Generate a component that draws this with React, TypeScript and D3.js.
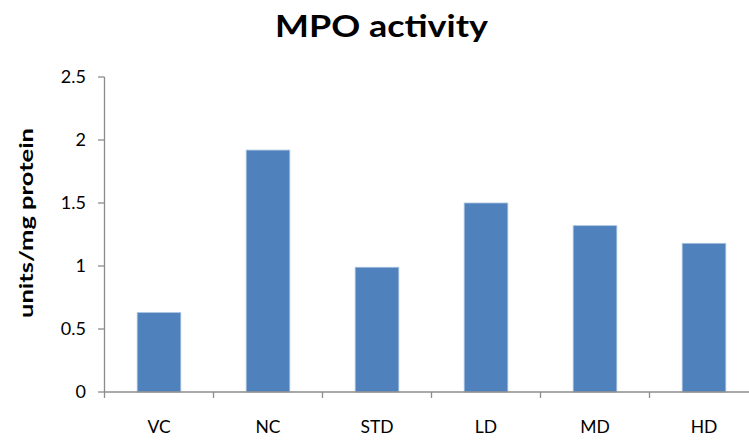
import React from "react";
import * as d3 from "d3";

const categories = ["VC", "NC", "STD", "LD", "MD", "HD"];
const values = [0.63, 1.92, 0.99, 1.5, 1.32, 1.18];
const yTicks = [0, 0.5, 1, 1.5, 2, 2.5];
const yTickLabels = ["0", "0.5", "1", "1.5", "2", "2.5"];
const title = "MPO activity";
const yLabel = "units/mg protein";

const W = 749;
const H = 441;
const FONT = "Lato, 'Open Sans', sans-serif";

export default function App() {
  const xb = d3.scaleBand<string>().domain(categories).range([104.5, 758.5]);
  const y = d3.scaleLinear().domain([0, 2.5]).range([392, 77]);
  const axisColor = "#8c8c8c";
  return (
    <svg width={W} height={H} style={{ position: "absolute", left: 0, top: 0, background: "#fff" }}>
      <text x={381.5} y={37} textAnchor="middle" fontFamily={FONT} fontWeight="bold" fontSize={31} textLength={213} lengthAdjust="spacingAndGlyphs" fill="#000">{title}</text>
      <text transform={`translate(33,223) rotate(-90)`} textAnchor="middle" fontFamily={FONT} fontWeight="bold" fontSize={19} textLength={190} lengthAdjust="spacingAndGlyphs" fill="#000">{yLabel}</text>
      {categories.map((c, i) => {
        const bw = xb.bandwidth() / 2.5;
        const cx = (xb(c) as number) + xb.bandwidth() / 2;
        return (
          <rect key={c} x={cx - bw / 2} y={y(values[i])} width={bw} height={y(0) - y(values[i])} fill="#4F81BD" stroke="#a9c1e0" strokeWidth={0.8} />
        );
      })}
      <line x1={104.5} x2={104.5} y1={y(2.5)} y2={y(0)} stroke={axisColor} strokeWidth={1.3} />
      {yTicks.map((t, i) => (
        <g key={t}>
          <line x1={98} x2={104.5} y1={y(t)} y2={y(t)} stroke={axisColor} strokeWidth={1.3} />
          <text x={86} y={y(t) + 6} textAnchor="end" fontFamily={FONT} fontSize={18} fill="#000">{yTickLabels[i]}</text>
        </g>
      ))}
      <line x1={104.5} x2={W} y1={y(0)} y2={y(0)} stroke={axisColor} strokeWidth={1.3} />
      {categories.concat(["_end"]).map((c, i) => {
        const tx = 104.5 + i * xb.bandwidth();
        return <line key={c} x1={tx} x2={tx} y1={y(0)} y2={y(0) + 6} stroke={axisColor} strokeWidth={1.3} />;
      })}
      {categories.map((c) => (
        <text key={c} x={(xb(c) as number) + xb.bandwidth() / 2} y={433} textAnchor="middle" fontFamily={FONT} fontSize={17.5} fill="#000">{c}</text>
      ))}
    </svg>
  );
}
